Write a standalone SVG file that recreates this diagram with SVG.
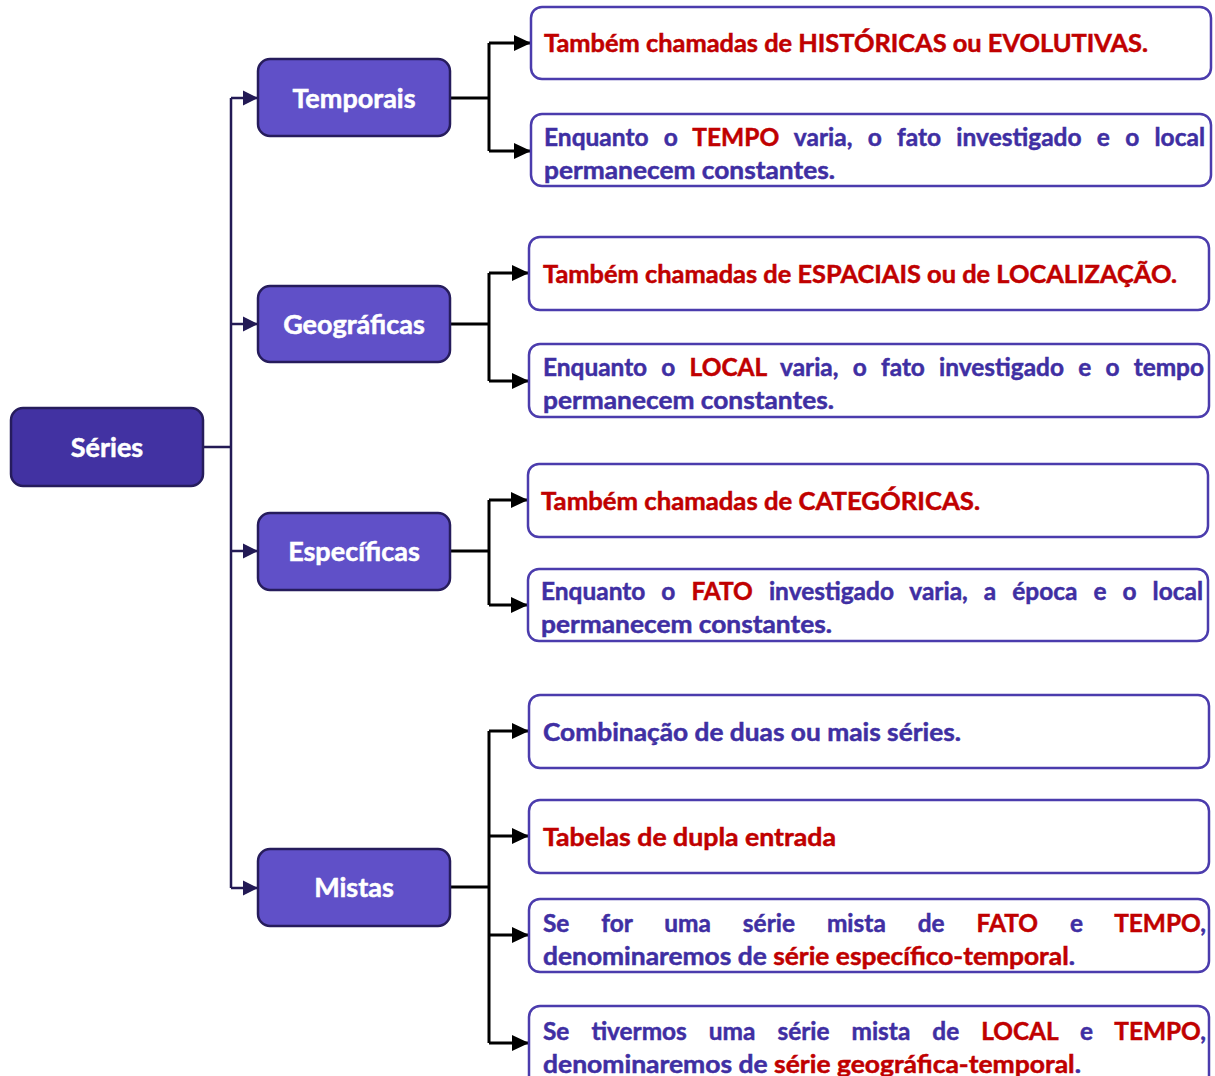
<svg xmlns="http://www.w3.org/2000/svg" width="1215" height="1076" viewBox="0 0 1215 1076">
<style>
.node rect{fill:#6050c8;stroke:#261c5c;stroke-width:2.5}
#n-series rect{fill:#4232a2}
.nl{font-family:Lato,"Open Sans","Liberation Sans",sans-serif;font-weight:700;font-size:27px;fill:#fff;stroke:#fff;stroke-width:0.5;text-anchor:middle}
.box rect{fill:#fff;stroke:#4b3cad;stroke-width:2.5}
.t{font-family:Lato,"Open Sans","Liberation Sans",sans-serif;font-weight:700;font-size:25px;fill:#3f2fa3;stroke:#3f2fa3;stroke-width:0.5}
.r{fill:#c00000;stroke:#c00000}
.cn{stroke:#231a55;stroke-width:2.5;fill:none}
.cb{stroke:#000;stroke-width:3;fill:none}
</style>
<defs>
<marker id="an" markerUnits="userSpaceOnUse" markerWidth="16" markerHeight="16" refX="15" refY="8" orient="auto"><path d="M0,0.5 L15,8 L0,15.5 Z" fill="#231a55"/></marker>
<marker id="ab" markerUnits="userSpaceOnUse" markerWidth="18" markerHeight="18" refX="17" refY="9" orient="auto"><path d="M0,1 L17,9 L0,17 Z" fill="#000"/></marker>
<clipPath id="c2"><rect x="531" y="114" width="680" height="72" rx="11"/></clipPath>
<clipPath id="c4"><rect x="529" y="344" width="680" height="73" rx="11"/></clipPath>
<clipPath id="c6"><rect x="528" y="569" width="680" height="72" rx="11"/></clipPath>
<clipPath id="c9"><rect x="529" y="899" width="680" height="73" rx="11"/></clipPath>
</defs>

<g id="connectors">
<path class="cn" d="M203,447 H231 M231,98 V888"/>
<path class="cn" d="M231,98 H258" marker-end="url(#an)"/>
<path class="cn" d="M231,324 H258" marker-end="url(#an)"/>
<path class="cn" d="M231,551 H258" marker-end="url(#an)"/>
<path class="cn" d="M231,888 H258" marker-end="url(#an)"/>

<path class="cb" d="M450,98 H489 M489,43 V151"/>
<path class="cb" d="M489,43 H531" marker-end="url(#ab)"/>
<path class="cb" d="M489,151 H531" marker-end="url(#ab)"/>

<path class="cb" d="M450,324 H489 M489,273 V381"/>
<path class="cb" d="M489,273 H529" marker-end="url(#ab)"/>
<path class="cb" d="M489,381 H529" marker-end="url(#ab)"/>

<path class="cb" d="M450,551 H489 M489,500 V605"/>
<path class="cb" d="M489,500 H528" marker-end="url(#ab)"/>
<path class="cb" d="M489,605 H528" marker-end="url(#ab)"/>

<path class="cb" d="M450,887 H489 M489,731 V1043"/>
<path class="cb" d="M489,731 H529" marker-end="url(#ab)"/>
<path class="cb" d="M489,836 H529" marker-end="url(#ab)"/>
<path class="cb" d="M489,935 H529" marker-end="url(#ab)"/>
<path class="cb" d="M489,1043 H529" marker-end="url(#ab)"/>
</g>

<g id="n-series" class="node"><rect x="11" y="408" width="192" height="78" rx="12"/><text class="nl" x="107" y="457">Séries</text></g>
<g id="n-temporais" class="node"><rect x="258" y="59" width="192" height="77" rx="12"/><text class="nl" x="354" y="108">Temporais</text></g>
<g id="n-geograficas" class="node"><rect x="258" y="286" width="192" height="76" rx="12"/><text class="nl" x="354" y="334">Geográficas</text></g>
<g id="n-especificas" class="node"><rect x="258" y="513" width="192" height="77" rx="12"/><text class="nl" x="354" y="561">Específicas</text></g>
<g id="n-mistas" class="node"><rect x="258" y="849" width="192" height="77" rx="12"/><text class="nl" x="354" y="897">Mistas</text></g>

<g id="b1" class="box"><rect x="531" y="7" width="680" height="72" rx="11"/>
<text class="t r" x="544" y="52" textLength="604" lengthAdjust="spacingAndGlyphs">Também chamadas de HISTÓRICAS ou EVOLUTIVAS.</text></g>

<g id="b2" class="box"><rect x="531" y="114" width="680" height="72" rx="11"/>
<g clip-path="url(#c2)">
<text class="t" x="544" y="146" textLength="661" lengthAdjust="spacingAndGlyphs" style="word-spacing:9.5px">Enquanto o <tspan class="r">TEMPO</tspan> varia, o fato investigado e o local</text>
<text class="t" x="544" y="179" textLength="291" lengthAdjust="spacingAndGlyphs">permanecem constantes.</text>
</g></g>

<g id="b3" class="box"><rect x="529" y="237" width="680" height="73" rx="11"/>
<text class="t r" x="543" y="283" textLength="634" lengthAdjust="spacingAndGlyphs">Também chamadas de ESPACIAIS ou de LOCALIZAÇÃO.</text></g>

<g id="b4" class="box"><rect x="529" y="344" width="680" height="73" rx="11"/>
<g clip-path="url(#c4)">
<text class="t" x="543" y="376" textLength="661" lengthAdjust="spacingAndGlyphs" style="word-spacing:8.5px">Enquanto o <tspan class="r">LOCAL</tspan> varia, o fato investigado e o tempo</text>
<text class="t" x="543" y="409" textLength="291" lengthAdjust="spacingAndGlyphs">permanecem constantes.</text>
</g></g>

<g id="b5" class="box"><rect x="528" y="464" width="680" height="73" rx="11"/>
<text class="t r" x="541" y="510" textLength="439" lengthAdjust="spacingAndGlyphs">Também chamadas de CATEGÓRICAS.</text></g>

<g id="b6" class="box"><rect x="528" y="569" width="680" height="72" rx="11"/>
<g clip-path="url(#c6)">
<text class="t" x="541" y="600" textLength="662" lengthAdjust="spacingAndGlyphs" style="word-spacing:10.3px">Enquanto o <tspan class="r">FATO</tspan> investigado varia, a época e o local</text>
<text class="t" x="541" y="633" textLength="291" lengthAdjust="spacingAndGlyphs">permanecem constantes.</text>
</g></g>

<g id="b7" class="box"><rect x="529" y="695" width="680" height="73" rx="11"/>
<text class="t" x="543" y="741" textLength="418" lengthAdjust="spacingAndGlyphs">Combinação de duas ou mais séries.</text></g>

<g id="b8" class="box"><rect x="529" y="800" width="680" height="73" rx="11"/>
<text class="t r" x="543" y="846" textLength="293" lengthAdjust="spacingAndGlyphs">Tabelas de dupla entrada</text></g>

<g id="b9" class="box"><rect x="529" y="899" width="680" height="73" rx="11"/>
<g clip-path="url(#c9)">
<text class="t" x="543" y="932" textLength="663" lengthAdjust="spacingAndGlyphs" style="word-spacing:26.6px">Se for uma série mista de <tspan class="r">FATO</tspan> e <tspan class="r">TEMPO</tspan>,</text>
<text class="t" x="543" y="965" textLength="532" lengthAdjust="spacingAndGlyphs">denominaremos de <tspan class="r">série específico-temporal</tspan>.</text>
</g></g>

<g id="b10" class="box"><rect x="529" y="1006" width="680" height="100" rx="11"/>
<text class="t" x="543" y="1040" textLength="663" lengthAdjust="spacingAndGlyphs" style="word-spacing:16.5px">Se tivermos uma série mista de <tspan class="r">LOCAL</tspan> e <tspan class="r">TEMPO</tspan>,</text>
<text class="t" x="543" y="1073" textLength="538" lengthAdjust="spacingAndGlyphs">denominaremos de <tspan class="r">série geográfica-temporal</tspan>.</text>
</g>
</svg>
